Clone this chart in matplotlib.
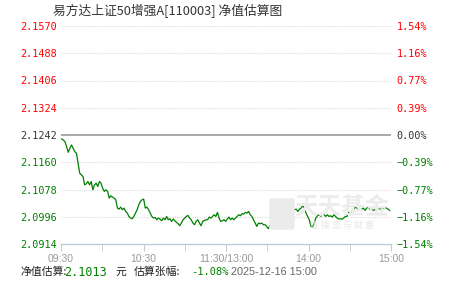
import numpy as np
import matplotlib
matplotlib.use("Agg")
import matplotlib.pyplot as plt
from matplotlib.patches import FancyBboxPatch

plt.rcParams["font.family"] = ["Noto Sans CJK SC", "DejaVu Sans"]

title = "易方达上证50增强A[110003] 净值估算图"
base_nav = 2.1242          # previous close
est_nav = "2.1013"
est_pct = "-1.08%"
stamp = "2025-12-16 15:00"

y_ticks = [2.0914, 2.0996, 2.1078, 2.1160, 2.1242, 2.1324, 2.1406, 2.1488, 2.1570]
pct_labels = ["−1.54%", "−1.16%", "−0.77%", "−0.39%", "0.00%", "0.39%", "0.77%", "1.16%", "1.54%"]

x_ticks = [0, 60, 120, 180, 240]   # minutes of trading since 09:30
x_labels = ["09:30", "10:30", "11:30/13:00", "14:00", "15:00"]

# estimated NAV through the session (~1.2 min apart)
nav = [
    2.1230, 2.1227, 2.1222, 2.1207, 2.1190, 2.1202, 2.1212, 2.1202, 2.1192, 2.1187,
    2.1157, 2.1127, 2.1122, 2.1117, 2.1092, 2.1095, 2.1102, 2.1092, 2.1102, 2.1077,
    2.1092, 2.1097, 2.1087, 2.1102, 2.1097, 2.1082, 2.1072, 2.1077, 2.1072, 2.1052,
    2.1059, 2.1055, 2.1052, 2.1047, 2.1022, 2.1019, 2.1025, 2.1017, 2.1022, 2.1012,
    2.1007, 2.0997, 2.0992, 2.0990, 2.0997, 2.1007, 2.1017, 2.1032, 2.1042, 2.1047,
    2.1049, 2.1022, 2.1025, 2.1017, 2.1007, 2.0997, 2.0992, 2.0994, 2.0987, 2.0992,
    2.0989, 2.0984, 2.0992, 2.0987, 2.0997, 2.0987, 2.0990, 2.0982, 2.0989, 2.0984,
    2.0979, 2.0975, 2.0969, 2.0977, 2.0987, 2.0992, 2.0997, 2.1000, 2.0992, 2.0987,
    2.0977, 2.0972, 2.0982, 2.0987, 2.0977, 2.0969, 2.0982, 2.0985, 2.0987, 2.0987,
    2.0995, 2.0992, 2.0997, 2.1002, 2.0997, 2.1009, 2.0992, 2.0982, 2.0984, 2.0987,
    2.0982, 2.0989, 2.0995, 2.0987, 2.0992, 2.0987, 2.0992, 2.0997, 2.1002, 2.0999,
    2.1005, 2.1004, 2.1009, 2.1007, 2.1012, 2.1002, 2.0997, 2.0987, 2.0977, 2.0967,
    2.0977, 2.0975, 2.0977, 2.0972, 2.0972, 2.0967, 2.0960, 2.0969, 2.0967, 2.0982,
    2.0982, 2.0987, 2.0989, 2.0992, 2.0997, 2.1002, 2.1015, 2.1022, 2.1025, 2.1022,
    2.1029, 2.1022, 2.1017, 2.1019, 2.1012, 2.1019, 2.1022, 2.1029, 2.1022, 2.1007,
    2.0997, 2.0987, 2.0967, 2.0965, 2.0977, 2.0992, 2.0999, 2.1002, 2.0997, 2.1007,
    2.1002, 2.0997, 2.1002, 2.0997, 2.0999, 2.0995, 2.1002, 2.0997, 2.0992, 2.0989,
    2.0990, 2.0989, 2.0992, 2.0997, 2.0997, 2.1009, 2.1002, 2.1007, 2.1017, 2.1025,
    2.1022, 2.1019, 2.1017, 2.1019, 2.1022, 2.1015, 2.1022, 2.1025, 2.1017, 2.1019,
    2.1015, 2.1017, 2.1017, 2.1022, 2.1019, 2.1022, 2.1019, 2.1025, 2.1022, 2.1019,
    2.1015,
]
minutes = np.linspace(0.5, 239, len(nav))

red = "#ff0000"
green = "#008000"
dark = "#333333"

fig = plt.figure(figsize=(4.51, 2.81), dpi=100)
ax = fig.add_axes([61 / 451, 37 / 281, 330 / 451, 218 / 281])
ax.set_xlim(0, 240)
ax.set_ylim(y_ticks[0], y_ticks[-1])

# watermark
fig.patches.append(FancyBboxPatch((272 / 451, 53 / 281), 20 / 451, 28 / 281,
                                  boxstyle="round,pad=0.006", transform=fig.transFigure,
                                  fc="#ebebeb", ec="none", zorder=0))
fig.text(342 / 451, 1 - 207 / 281, "天天基金", fontsize=17, color="#ececec",
         ha="center", va="center", fontweight="bold", zorder=0)
fig.text(342 / 451, 1 - 225 / 281, "连 接 您 与 财 富", fontsize=6.5, color="#e6e6e6",
         ha="center", va="center", zorder=0)

for v in y_ticks[1:]:
    if v == base_nav:
        ax.axhline(v, color="#999999", lw=1.2, zorder=1)
    else:
        ax.axhline(v, color="#dcdcdc", lw=0.8, ls=(0, (1, 1)), zorder=1)

ax.plot(minutes, nav, color=green, lw=0.9, zorder=3)

for s in ["top", "left", "right"]:
    ax.spines[s].set_visible(False)
ax.spines["bottom"].set_color("#bfcbd9")
ax.spines["bottom"].set_linewidth(1.0)
ax.patch.set_alpha(0)

ax.set_xticks(np.arange(0, 241, 30), minor=True)
ax.set_xticks(x_ticks)
ax.set_xticklabels(x_labels, fontsize=7.5, color="#999999", family="Liberation Sans")
ax.tick_params(axis="x", which="both", length=5, color="#bfcbd9", pad=2)

def level_color(v):
    if v > base_nav:
        return red
    if v < base_nav:
        return green
    return dark

ax.set_yticks(y_ticks)
ax.set_yticklabels([f"{v:.4f}" for v in y_ticks], fontsize=7.3, family="DejaVu Sans Mono")
ax.tick_params(axis="y", length=0, pad=3)
for lbl, v in zip(ax.get_yticklabels(), y_ticks):
    lbl.set_color(level_color(v))

ax2 = ax.twinx()
ax2.set_ylim(ax.get_ylim())
ax2.set_yticks(y_ticks)
ax2.set_yticklabels(pct_labels, fontsize=7.3, family="DejaVu Sans Mono")
ax2.tick_params(axis="y", length=0, pad=4)
for lbl, v in zip(ax2.get_yticklabels(), y_ticks):
    lbl.set_color(level_color(v))
for s in ax2.spines.values():
    s.set_visible(False)

fig.text(168 / 451, 1 - 11 / 281, title, fontsize=9.2, color="#333333",
         ha="center", va="center", family=["Noto Sans CJK SC", "DejaVu Sans"])

fy = 1 - 272 / 281
fig.text(20 / 451, fy, "净值估算:", fontsize=7.8, color="#222222", va="center")
fig.text(64 / 451, fy, est_nav, fontsize=8.5, color=green, va="center", family="DejaVu Sans Mono")
fig.text(116 / 451, fy, "元", fontsize=7.8, color="#222222", va="center")
fig.text(134 / 451, fy, "估算张幅:", fontsize=7.8, color="#222222", va="center")
fig.text(191 / 451, fy, est_pct, fontsize=7.5, color=green, va="center", family="DejaVu Sans Mono")
fig.text(231 / 451, fy, stamp, fontsize=7.8, color="#666666", va="center", family="Liberation Sans")

fig.savefig("out.png", dpi=100)
